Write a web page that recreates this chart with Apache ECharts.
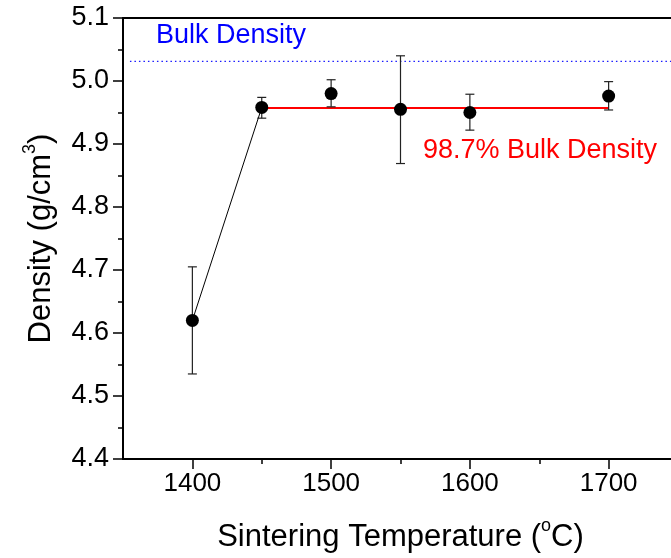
<!DOCTYPE html>
<html>
<head>
<meta charset="utf-8">
<script src="https://cdn.jsdelivr.net/npm/echarts@6/dist/echarts.min.js"></script>
<style>
  html, body { margin: 0; padding: 0; background: #fff; }
  #chart { width: 671px; height: 558px; }
</style>
</head>
<body>
<div id="chart"></div>
<script>
// Sintering temperature (°C) and measured density (g/cm3) with error bounds
const temperatures = [1400, 1450, 1500, 1550, 1600, 1700];
const densities    = [4.620, 4.958, 4.980, 4.955, 4.950, 4.976];
const errLow       = [4.535, 4.941, 4.959, 4.869, 4.922, 4.954];
const errHigh      = [4.705, 4.974, 5.002, 5.040, 4.979, 4.999];

// Reference levels
const bulkDensity = 5.031;
const plateauDensity = 4.957;   // 98.7% of bulk
const plateauRange = [1450, 1700];
const bulkLineRange = [1355, 1750];

// Axis ticks
const xMajorTicks = [1400, 1500, 1600, 1700];
const xMinorTicks = [1450, 1550, 1650, 1750];

const FONT = '"Liberation Sans", Arial, Helvetica, sans-serif';

const chart = echarts.init(document.getElementById('chart'), null, { renderer: 'canvas' });

const scatterData = temperatures.map((t, i) => [t, densities[i]]);
const errorData = temperatures.map((t, i) => [t, errLow[i], errHigh[i]]);

const titleRich = {
  t: { fontSize: 31, lineHeight: 40, fontFamily: FONT, color: '#000' },
  s: { fontSize: 18, lineHeight: 18, fontFamily: FONT, color: '#000', verticalAlign: 'top' }
};

const option = {
  animation: false,
  backgroundColor: '#fff',
  grid: {
    left: 123, top: 18, width: 555, height: 441,
    outerBoundsMode: 'none',
    show: false
  },
  xAxis: [
    {
      type: 'value', min: 1350, max: 1750,
      axisLine: { show: true, lineStyle: { color: '#000', width: 2 } },
      axisTick: { show: true, length: 10, customValues: xMajorTicks, lineStyle: { color: '#000', width: 1.5 } },
      axisLabel: {
        show: true, customValues: xMajorTicks, margin: 12,
        color: '#000', fontSize: 26, fontFamily: FONT,
        formatter: v => String(v)
      },
      splitLine: { show: false },
      name: '{t|Sintering Temperature (}{s|o}{t|C)}',
      nameLocation: 'middle', nameGap: 58,
      nameTextStyle: { rich: titleRich }
    },
    {
      // short ticks half-way between the labelled ones
      type: 'value', min: 1350, max: 1750, position: 'bottom',
      axisLine: { show: false },
      axisTick: { show: true, length: 5, customValues: xMinorTicks, lineStyle: { color: '#000', width: 1.5 } },
      axisLabel: { show: false },
      splitLine: { show: false }
    },
    {
      // top frame line
      type: 'value', min: 1350, max: 1750, position: 'top',
      axisLine: { show: true, lineStyle: { color: '#000', width: 2 } },
      axisTick: { show: false },
      axisLabel: { show: false },
      splitLine: { show: false }
    }
  ],
  yAxis: {
    type: 'value', min: 4.4, max: 5.1, interval: 0.1,
    axisLine: { show: true, lineStyle: { color: '#000', width: 2 } },
    axisTick: { show: true, length: 10, lineStyle: { color: '#000', width: 1.5 } },
    minorTick: { show: true, splitNumber: 2, length: 5, lineStyle: { color: '#000', width: 1.5 } },
    axisLabel: {
      margin: 14, color: '#000', fontSize: 27, fontFamily: FONT,
      formatter: v => v.toFixed(1)
    },
    splitLine: { show: false },
    name: '{t|Density (g/cm}{s|3}{t|)}',
    nameLocation: 'middle', nameGap: 62,
    nameTextStyle: { rich: titleRich }
  },
  series: [
    {
      // bulk density reference
      type: 'line',
      data: bulkLineRange.map(x => [x, bulkDensity]),
      symbol: 'none',
      lineStyle: { color: '#1a1aff', width: 1.3, type: [1.5, 3] },
      markPoint: {
        symbol: 'circle', symbolSize: 0,
        data: [{ coord: [1373.8, 5.072] }],
        label: {
          show: true, position: 'inside', align: 'left', verticalAlign: 'middle',
          formatter: 'Bulk Density', color: '#0000ff', fontSize: 27, fontFamily: FONT
        }
      },
      z: 2
    },
    {
      // plateau level
      type: 'line',
      data: plateauRange.map(x => [x, plateauDensity]),
      symbol: 'none',
      lineStyle: { color: '#ff0000', width: 2 },
      markPoint: {
        symbol: 'circle', symbolSize: 0,
        data: [{ coord: [1566.2, 4.890] }],
        label: {
          show: true, position: 'inside', align: 'left', verticalAlign: 'middle',
          formatter: '98.7% Bulk Density', color: '#ff0000', fontSize: 27, fontFamily: FONT
        }
      },
      z: 3
    },
    {
      // densification step
      type: 'line',
      data: scatterData.slice(0, 2),
      symbol: 'none',
      lineStyle: { color: '#000', width: 1 },
      z: 3
    },
    {
      type: 'custom',
      data: errorData,
      renderItem: function (params, api) {
        const x = api.value(0);
        const top = api.coord([x, api.value(2)]);
        const bot = api.coord([x, api.value(1)]);
        const hw = 4.5;
        const style = { stroke: '#222', lineWidth: 1.2 };
        return {
          type: 'group',
          children: [
            { type: 'line', shape: { x1: top[0], y1: top[1], x2: bot[0], y2: bot[1] }, style },
            { type: 'line', shape: { x1: top[0] - hw, y1: top[1], x2: top[0] + hw, y2: top[1] }, style },
            { type: 'line', shape: { x1: bot[0] - hw, y1: bot[1], x2: bot[0] + hw, y2: bot[1] }, style }
          ]
        };
      },
      z: 4
    },
    {
      type: 'scatter',
      data: scatterData,
      symbol: 'circle',
      symbolSize: 13,
      itemStyle: { color: '#000', opacity: 1 },
      z: 5
    }
  ]
};

chart.setOption(option);
</script>
</body>
</html>
